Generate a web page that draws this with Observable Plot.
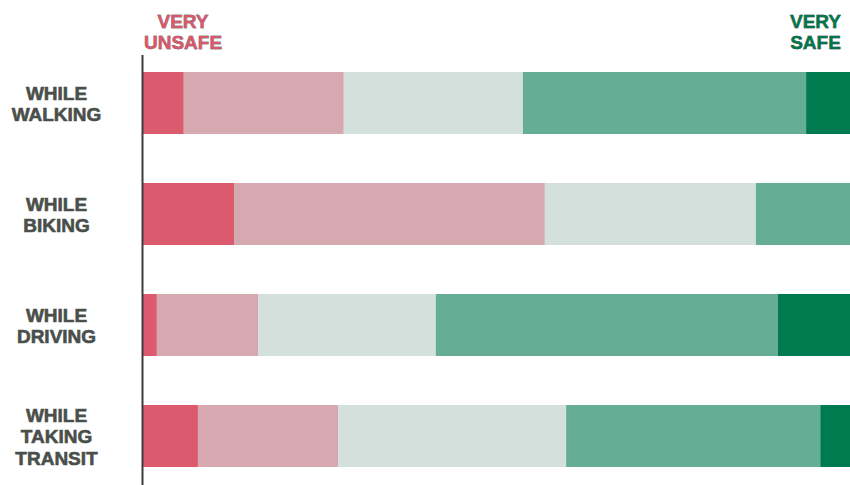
<!DOCTYPE html>
<html>
<head>
<meta charset="utf-8">
<script src="https://cdn.jsdelivr.net/npm/d3@7"></script>
<script src="https://cdn.jsdelivr.net/npm/@observablehq/plot@0.6"></script>
<style>
  html, body { margin: 0; padding: 0; background: #fff; }
  #chart svg { display: block; }
  #chart svg g[aria-label="y-axis tick label"] text { stroke: #4a4f4b; stroke-width: 0.6px; }
  #chart svg g[aria-label="text"] text { stroke: currentColor; stroke-width: 0.4px; paint-order: stroke; }
</style>
</head>
<body>
<div id="chart"></div>
<script>
const categories = ["WHILE WALKING", "WHILE BIKING", "WHILE DRIVING", "WHILE TAKING TRANSIT"];
const categoryLabels = ["WHILE\nWALKING", "WHILE\nBIKING", "WHILE\nDRIVING", "WHILE\nTAKING\nTRANSIT"];
const levels = ["Very unsafe", "Unsafe", "Neutral", "Safe", "Very safe"];
const levelColors = ["#dc5a6d", "#d6a8b0", "#d4e0dc", "#65ad94", "#007a4f"];
const veryUnsafe = [5.9, 13.0, 2.1, 7.9];
const unsafe     = [22.6, 43.9, 14.3, 19.8];
const neutral    = [25.3, 29.8, 25.1, 32.2];
const safe       = [40.0, 13.3, 48.3, 35.9];
const verySafe   = [6.2, 0.0, 10.2, 4.2];

const series = [veryUnsafe, unsafe, neutral, safe, verySafe];
const rows = [];
categories.forEach((c, i) => {
  levels.forEach((l, j) => rows.push({category: c, level: l, value: series[j][i]}));
});
const labelOf = new Map(categories.map((c, i) => [c, categoryLabels[i]]));

const plot = Plot.plot({
  width: 850,
  height: 485,
  marginLeft: 142,
  marginRight: 0,
  marginTop: 55,
  marginBottom: 0,
  style: {fontFamily: "'Liberation Sans', Arial, sans-serif", background: "#fff"},
  x: {domain: [0, 100], axis: null},
  y: {domain: categories, paddingInner: 0.44, paddingOuter: 0.15, label: null},
  color: {domain: levels, range: levelColors},
  marks: [
    Plot.barX(rows, Plot.stackX({x: "value", y: "category", fill: "level", order: levels})),
    Plot.ruleX([0], {stroke: "#3b3d3b", strokeWidth: 2}),
    Plot.axisY({
      tickSize: 0,
      tickPadding: 86,
      textAnchor: "middle",
      tickFormat: (d) => labelOf.get(d),
      fontSize: 19,
      fontWeight: "bold",
      fill: "#4a4f4b",
      lineHeight: 1.13,
      label: null,
      style: {letterSpacing: "0.6px"}
    }),
    Plot.text(["VERY\nUNSAFE"], {
      frameAnchor: "top-left", dx: 40.5, dy: -42, lineAnchor: "top",
      textAnchor: "middle", fontSize: 19, fontWeight: "bold", fill: "#d9586c",
      lineHeight: 1.08, style: {letterSpacing: "1px", color: "#d9586c"}
    }),
    Plot.text(["VERY\nSAFE"], {
      frameAnchor: "top-right", dx: -35, dy: -42, lineAnchor: "top",
      textAnchor: "middle", fontSize: 19, fontWeight: "bold", fill: "#00774b",
      lineHeight: 1.08, style: {letterSpacing: "0.5px", color: "#00774b"}
    })
  ]
});
document.getElementById("chart").appendChild(plot);
</script>
</body>
</html>
